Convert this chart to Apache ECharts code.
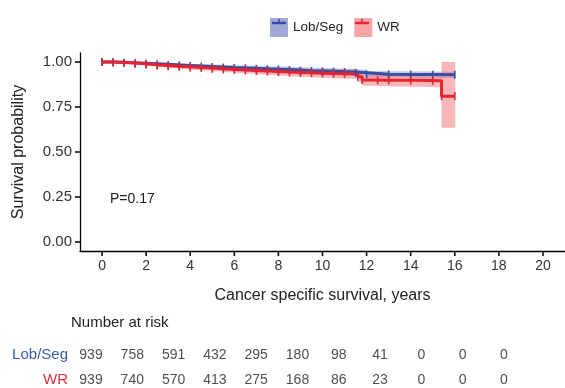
<!DOCTYPE html>
<html>
<head>
<meta charset="utf-8">
<script src="https://cdn.jsdelivr.net/npm/echarts@6/dist/echarts.min.js"></script>
<style>
  html, body { margin: 0; padding: 0; background: #fff; }
  #chart { width: 565px; height: 388px; }
</style>
</head>
<body>
<div id="chart"></div>
<script>
// Kaplan-Meier step points
const lobTimes = [0, 0.5, 1, 1.5, 2, 2.5, 3, 3.5, 4, 4.5, 5, 5.5, 6, 6.5, 7, 7.5, 8, 8.5, 9, 9.5, 10, 10.5, 11, 11.5, 12, 13, 14, 15, 16]
const lobSurv = [1.0, 0.998, 0.996, 0.993, 0.99, 0.987, 0.984, 0.981, 0.978, 0.975, 0.972, 0.969, 0.967, 0.965, 0.962, 0.96, 0.958, 0.955, 0.952, 0.95, 0.948, 0.946, 0.944, 0.94, 0.932, 0.931, 0.93, 0.929, 0.929]
const lobLower = [1.0, 0.994, 0.991, 0.987, 0.983, 0.979, 0.975, 0.971, 0.967, 0.963, 0.959, 0.956, 0.953, 0.95, 0.947, 0.944, 0.941, 0.938, 0.935, 0.932, 0.93, 0.928, 0.926, 0.921, 0.914, 0.913, 0.912, 0.911, 0.911]
const lobUpper = [1.0, 1.0, 1.0, 0.999, 0.997, 0.995, 0.993, 0.991, 0.989, 0.987, 0.985, 0.982, 0.981, 0.98, 0.977, 0.976, 0.975, 0.972, 0.969, 0.968, 0.966, 0.964, 0.962, 0.959, 0.95, 0.949, 0.948, 0.947, 0.947]

const wrTimes = [0, 0.5, 1, 1.5, 2, 2.5, 3, 3.5, 4, 4.5, 5, 5.5, 6, 6.5, 7, 7.5, 8, 8.5, 9, 9.5, 10, 10.5, 11, 11.6, 11.8, 12.5, 13, 14, 15, 15.4, 16]
const wrSurv = [1.0, 0.997, 0.994, 0.99, 0.985, 0.981, 0.977, 0.973, 0.969, 0.966, 0.962, 0.959, 0.956, 0.953, 0.95, 0.947, 0.944, 0.942, 0.94, 0.938, 0.936, 0.935, 0.934, 0.918, 0.9, 0.899, 0.898, 0.897, 0.896, 0.81, 0.81]
const wrLower = [1.0, 0.993, 0.988, 0.983, 0.977, 0.971, 0.966, 0.961, 0.956, 0.952, 0.947, 0.943, 0.939, 0.935, 0.931, 0.927, 0.923, 0.92, 0.917, 0.914, 0.911, 0.909, 0.907, 0.889, 0.868, 0.866, 0.864, 0.862, 0.86, 0.635, 0.635]
const wrUpper = [1.0, 1.0, 1.0, 0.997, 0.993, 0.99, 0.988, 0.985, 0.982, 0.98, 0.977, 0.975, 0.973, 0.971, 0.969, 0.967, 0.965, 0.964, 0.963, 0.962, 0.961, 0.961, 0.961, 0.947, 0.93, 0.93, 0.93, 0.93, 0.93, 1.0, 1.0]

const xTicks = [0, 2, 4, 6, 8, 10, 12, 14, 16, 18, 20]
const yTicks = [0, 0.25, 0.5, 0.75, 1]

const riskRows = ['Lob/Seg', 'WR']
const riskYears = [0, 2, 4, 6, 8, 10, 12, 14, 16, 18, 20]
const riskLob = [939, 758, 591, 432, 295, 180, 98, 41, 0, 0, 0]
const riskWr = [939, 740, 570, 413, 275, 168, 86, 23, 0, 0, 0]

const X_MIN = -1
const Y_MIN = -0.05

const BLUE = '#3350a6'
const RED = '#e8232d'
const BLUE_BAND = 'rgba(110, 125, 195, 0.4)'
const RED_BAND = 'rgba(240, 95, 100, 0.45)'
const FONT = '"Liberation Sans", Arial, sans-serif'

const pairs = (xs, ys) => xs.map((x, i) => [x, ys[i]])

// one rect per step interval: [t_start, t_end, lower, upper]
const bandRows = (times, lower, upper) =>
  times.slice(0, -1).map((t, i) => [t, times[i + 1], lower[i], upper[i]])

const bandSeries = (times, lower, upper, color) => ({
  type: 'custom',
  silent: true,
  data: bandRows(times, lower, upper),
  encode: { x: [0, 1], y: [2, 3] },
  renderItem: (params, api) => {
    const p0 = api.coord([api.value(0), api.value(3)])
    const p1 = api.coord([api.value(1), api.value(2)])
    return {
      type: 'rect',
      shape: { x: p0[0], y: p0[1], width: p1[0] - p0[0] + 0.5, height: p1[1] - p0[1] },
      style: { fill: color },
    }
  },
  z: 1,
})

const curveSeries = (name, times, surv, color) => ({
  name,
  type: 'line',
  step: 'end',
  data: pairs(times, surv),
  symbol: 'rect',
  symbolSize: [1.6, 8],
  showSymbol: true,
  itemStyle: { color },
  lineStyle: { color, width: 3 },
  z: 5,
})

// row 1 = Lob/Seg, row 2 = WR
const riskData = (row, values) => riskYears.map((y, i) => [y, row, values[i]])

const baseGraphics = [
  { type: 'text', left: 110, top: 192, style: { text: 'P=0.17', fontSize: 14, fill: '#222', fontFamily: FONT } },
  { type: 'text', left: 71, top: 315, style: { text: 'Number at risk', fontSize: 15, fill: '#222', fontFamily: FONT } },
  { type: 'line', shape: { x1: 272, y1: 23, x2: 286, y2: 23 }, style: { stroke: BLUE, lineWidth: 2.5 }, z: 100 },
  { type: 'line', shape: { x1: 279, y1: 19, x2: 279, y2: 23 }, style: { stroke: BLUE, lineWidth: 1.5 }, z: 100 },
  { type: 'line', shape: { x1: 355, y1: 23, x2: 369, y2: 23 }, style: { stroke: RED, lineWidth: 2.5 }, z: 100 },
  { type: 'line', shape: { x1: 362, y1: 19, x2: 362, y2: 23 }, style: { stroke: RED, lineWidth: 1.5 }, z: 100 },
]

const chart = echarts.init(document.getElementById('chart'))
chart.setOption({
  animation: false,
  textStyle: { fontFamily: FONT },
  legend: {
    top: 13,
    left: 265,
    itemWidth: 18,
    itemHeight: 19,
    itemGap: 11,
    textStyle: { fontSize: 13.5, color: '#222' },
    data: [
      { name: 'Lob/Seg', icon: 'rect', itemStyle: { color: 'rgba(130, 140, 200, 0.75)' } },
      { name: 'WR', icon: 'rect', itemStyle: { color: 'rgba(245, 150, 155, 0.85)' } },
    ],
  },
  grid: [
    { left: 80, right: 0, top: 53, height: 198 },
    { left: 91, right: 61, top: 330, height: 58 },
  ],
  xAxis: [
    {
      type: 'value', min: X_MIN, max: 21,
      name: 'Cancer specific survival, years',
      nameLocation: 'middle', nameGap: 37,
      nameTextStyle: { fontSize: 16, color: '#222' },
      axisLine: { onZero: false, lineStyle: { color: '#000', width: 1.3 } },
      axisTick: { show: false },
      axisLabel: { customValues: xTicks, fontSize: 14, color: '#333', margin: 8 },
      splitLine: { show: false },
    },
    { gridIndex: 1, type: 'value', min: 0, max: 20, show: false },
  ],
  yAxis: [
    {
      type: 'value', min: Y_MIN, max: 1.05,
      name: 'Survival probability',
      nameLocation: 'middle', nameGap: 53,
      nameTextStyle: { fontSize: 16, color: '#222' },
      axisLine: { show: true, onZero: false, lineStyle: { color: '#000', width: 1.3 } },
      axisTick: { show: false },
      axisLabel: { customValues: yTicks, fontSize: 15, color: '#333', margin: 8, formatter: (v) => v.toFixed(2) },
      splitLine: { show: false },
    },
    {
      gridIndex: 1, type: 'value', min: 0, max: 58 / 25, inverse: true,
      axisLine: { show: false }, axisTick: { show: false }, splitLine: { show: false },
      axisLabel: {
        customValues: [1, 2],
        margin: 23, fontSize: 15,
        formatter: (v) => (v === 1 ? '{lob|' + riskRows[0] + '}' : '{wr|' + riskRows[1] + '}'),
        rich: { wr: { color: '#d8323f', fontSize: 15 }, lob: { color: '#3a5ca8', fontSize: 15 } },
      },
    },
  ],
  series: [
    bandSeries(lobTimes, lobLower, lobUpper, BLUE_BAND),
    bandSeries(wrTimes, wrLower, wrUpper, RED_BAND),
    curveSeries('Lob/Seg', lobTimes, lobSurv, BLUE),
    curveSeries('WR', wrTimes, wrSurv, RED),
    {
      type: 'scatter', xAxisIndex: 1, yAxisIndex: 1, symbolSize: 0, silent: true,
      data: riskData(1, riskLob).concat(riskData(2, riskWr)),
      label: { show: true, position: 'inside', fontSize: 14, color: '#222', formatter: (p) => p.value[2] },
    },
  ],
  graphic: baseGraphics,
})

// tick marks placed through the chart's own scales
const tickStyle = { stroke: '#111', lineWidth: 1.6 }
const xTickMarks = xTicks.map((v) => {
  const [px, py] = chart.convertToPixel({ gridIndex: 0 }, [v, Y_MIN])
  return { type: 'line', shape: { x1: px, y1: py, x2: px, y2: py + 5 }, style: tickStyle, z: 100 }
})
const yTickMarks = yTicks.map((v) => {
  const [px, py] = chart.convertToPixel({ gridIndex: 0 }, [X_MIN, v])
  return { type: 'line', shape: { x1: px, y1: py, x2: px - 5, y2: py }, style: tickStyle, z: 100 }
})
chart.setOption({ graphic: baseGraphics.concat(xTickMarks, yTickMarks) })
</script>
</body>
</html>
